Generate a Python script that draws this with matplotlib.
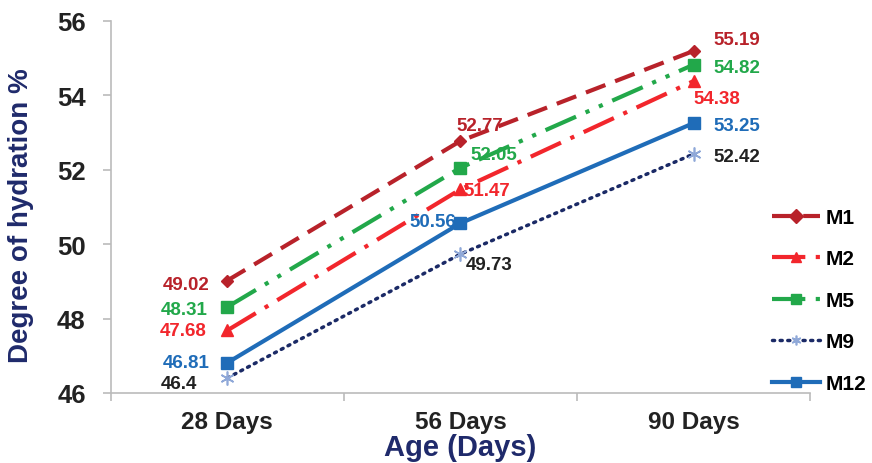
import matplotlib.pyplot as plt
import numpy as np

plt.rcParams['font.family'] = ['Liberation Sans', 'DejaVu Sans']

# data
ages = ['28 Days', '56 Days', '90 Days']
m1 = [49.02, 52.77, 55.19]
m2 = [47.68, 51.47, 54.38]
m5 = [48.31, 52.05, 54.82]
m9 = [46.4, 49.73, 52.42]
m12 = [46.81, 50.56, 53.25]

x = np.arange(len(ages))

fig = plt.figure(figsize=(8.72, 4.64), dpi=100)
ax = fig.add_axes([0.127, 0.151, 0.802, 0.802])

ax.plot(x, m1, color='#B8222A', lw=3, ls=(0, (5, 2.5)), marker='D', ms=6.5, label='M1')
ax.plot(x, m2, color='#F2262C', lw=3, ls=(0, (8, 2.5, 1, 2.5)), marker='^', ms=9, label='M2')
ax.plot(x, m5, color='#22A84A', lw=3, ls=(0, (8, 2.5, 1, 2.5, 1, 2.5)), marker='s', ms=9, label='M5')
ax.plot(x, m9, color='#1B2A66', lw=2.5, ls=(0, (0.6, 1.6)), dash_capstyle='round',
        marker=(6, 2, 0), ms=10, mec='#8FA8D8', mew=1.2, label='M9')
ax.plot(x, m12, color='#1F6CB8', lw=3, ls='-', marker='s', ms=9, label='M12')

# value labels
lab = dict(fontsize=13.5, fontweight='bold')
c1, c2, c5, c9, c12 = '#B8222A', '#F2262C', '#22A84A', '#222222', '#1F6CB8'
# 28 days
ax.annotate(f'{m1[0]:.2f}', (x[0], m1[0]), xytext=(-13, -6), textcoords='offset points', ha='right', color=c1, **lab)
ax.annotate(f'{m5[0]:.2f}', (x[0], m5[0]), xytext=(-14, -5), textcoords='offset points', ha='right', color=c5, **lab)
ax.annotate(f'{m2[0]:.2f}', (x[0], m2[0]), xytext=(-15, -3), textcoords='offset points', ha='right', color=c2, **lab)
ax.annotate(f'{m12[0]:.2f}', (x[0], m12[0]), xytext=(-13, -3), textcoords='offset points', ha='right', color=c12, **lab)
ax.annotate(f'{m9[0]:g}', (x[0], m9[0]), xytext=(-22, -7), textcoords='offset points', ha='right', color=c9, **lab)
# 56 days
ax.annotate(f'{m1[1]:.2f}', (x[1], m1[1]), xytext=(14, 8), textcoords='offset points', ha='center', color=c1, **lab)
ax.annotate(f'{m5[1]:.2f}', (x[1], m5[1]), xytext=(7, 6), textcoords='offset points', ha='left', color=c5, **lab)
ax.annotate(f'{m2[1]:.2f}', (x[1], m2[1]), xytext=(2, -4), textcoords='offset points', ha='left', color=c2, **lab)
ax.annotate(f'{m12[1]:.2f}', (x[1], m12[1]), xytext=(-3, -2), textcoords='offset points', ha='right', color=c12, **lab)
ax.annotate(f'{m9[1]:.2f}', (x[1], m9[1]), xytext=(4, -11), textcoords='offset points', ha='left', color=c9, **lab)
# 90 days
ax.annotate(f'{m1[2]:.2f}', (x[2], m1[2]), xytext=(14, 5), textcoords='offset points', ha='left', color=c1, **lab)
ax.annotate(f'{m5[2]:.2f}', (x[2], m5[2]), xytext=(14, -5), textcoords='offset points', ha='left', color=c5, **lab)
ax.annotate(f'{m2[2]:.2f}', (x[2], m2[2]), xytext=(0, -16), textcoords='offset points', ha='left', color=c2, **lab)
ax.annotate(f'{m12[2]:.2f}', (x[2], m12[2]), xytext=(14, -5), textcoords='offset points', ha='left', color=c12, **lab)
ax.annotate(f'{m9[2]:.2f}', (x[2], m9[2]), xytext=(14, -5), textcoords='offset points', ha='left', color=c9, **lab)

# axes
ax.set_xlim(-0.5, 2.5)
ax.set_ylim(46, 56)
ax.set_yticks(np.arange(46, 57, 2))
ax.set_xticks(x)
ax.set_xticklabels(ages)
ax.set_xticks([-0.5, 0.5, 1.5, 2.5], minor=True)
ax.tick_params(axis='x', which='major', length=0, pad=12, labelsize=17.5, labelcolor='#222222')
ax.tick_params(axis='x', which='minor', length=6, color='#BBBBBB', width=1.2)
ax.tick_params(axis='y', length=6, color='#BBBBBB', width=1.2, labelsize=18.5, labelcolor='#222222', pad=12)
for t in ax.get_xticklabels() + ax.get_yticklabels():
    t.set_fontweight('bold')
for s in ['top', 'right']:
    ax.spines[s].set_visible(False)
for s in ['left', 'bottom']:
    ax.spines[s].set_color('#BBBBBB')
    ax.spines[s].set_linewidth(1.2)

ax.set_xlabel('Age (Days)', fontsize=21, fontweight='bold', color='#1F2A6B', labelpad=0)
fig.text(0.024, 0.535, 'Degree of hydration %', rotation=90, fontsize=20, fontweight='bold',
         color='#1F2A6B', ha='center', va='center')

leg = fig.legend(loc='upper left', bbox_to_anchor=(0.885, 0.55), frameon=False,
                 prop={'weight': 'bold', 'size': 15}, handlelength=2.3,
                 labelspacing=1.08, handletextpad=0.3, borderaxespad=0, borderpad=0)
for h in leg.legend_handles:
    h.set_markersize(7)

fig.savefig('out.png', dpi=100)
